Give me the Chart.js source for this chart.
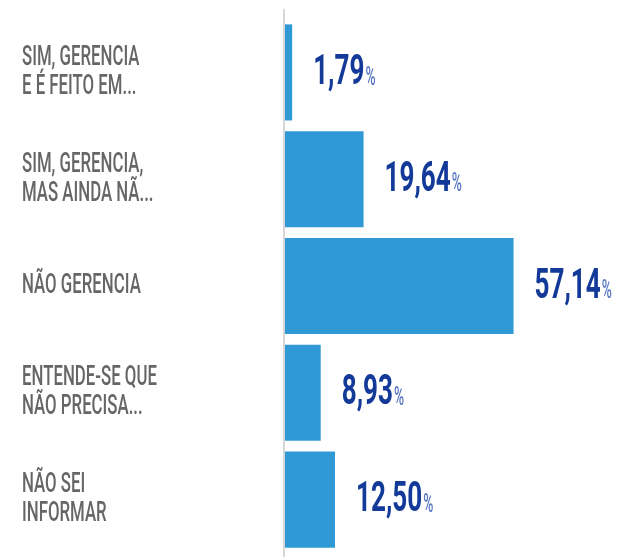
<!DOCTYPE html>
<html>
<head>
<meta charset="utf-8">
<script src="https://cdn.jsdelivr.net/npm/chart.js@4"></script>
<style>
  html, body { margin: 0; padding: 0; background: #fff; }
  #wrap { width: 624px; height: 557px; }
</style>
</head>
<body>
<div id="wrap"><canvas id="chart" width="624" height="557"></canvas></div>
<script>
// Categories (multi-line labels) and values in %
const categories = [
    ['SIM, GERENCIA', 'E É FEITO EM...'],
    ['SIM, GERENCIA,', 'MAS AINDA NÃ...'],
    ['NÃO GERENCIA'],
    ['ENTENDE-SE QUE', 'NÃO PRECISA...'],
    ['NÃO SEI', 'INFORMAR']
];
const values = [1.79, 19.64, 57.14, 8.93, 12.50];

const BAR_COLOR = '#2f99d5';
const LABEL_COLOR = '#666666';
const VALUE_COLOR = '#133a98';
const PCT_COLOR = '#5574c2';

// draws text squeezed horizontally to imitate a condensed face
function drawCondensed(ctx, text, x, y, font, color, sx) {
    ctx.save();
    ctx.font = font;
    ctx.fillStyle = color;
    ctx.textBaseline = 'middle';
    ctx.textAlign = 'left';
    ctx.translate(x, y);
    ctx.scale(sx, 1);
    ctx.fillText(text, 0, 0);
    const w = ctx.measureText(text).width * sx;
    ctx.restore();
    return w;
}

const labelsPlugin = {
    id: 'labelsPlugin',
    beforeDatasetsDraw(chart) {
        const ctx = chart.ctx;
        const x0 = chart.scales.x.getPixelForValue(0);
        ctx.save();
        ctx.strokeStyle = '#d6d6d6';
        ctx.lineWidth = 2;
        ctx.beginPath();
        ctx.moveTo(x0 - 1, 9);
        ctx.lineTo(x0 - 1, chart.height);
        ctx.stroke();
        ctx.restore();
    },
    afterDatasetsDraw(chart) {
        const ctx = chart.ctx;
        const yScale = chart.scales.y;
        const meta = chart.getDatasetMeta(0);
        categories.forEach((lines, i) => {
            const cy = yScale.getPixelForValue(i);
            const lh = 29;
            const start = cy - (lines.length - 1) * lh / 2;
            lines.forEach((line, j) => {
                drawCondensed(ctx, line, 22, start + j * lh, '500 28px Roboto', LABEL_COLOR, 0.6);
            });
            const bar = meta.data[i];
            const txt = values[i].toFixed(2).replace('.', ',');
            const vx = bar.x + 21;
            const w = drawCondensed(ctx, txt, vx, cy + 1, 'bold 42px Roboto', VALUE_COLOR, 0.62);
            drawCondensed(ctx, '%', vx + w + 1, cy + 6, '500 25px Roboto', PCT_COLOR, 0.55);
        });
    }
};

new Chart(document.getElementById('chart'), {
    type: 'bar',
    data: {
        labels: categories,
        datasets: [{
            data: values,
            backgroundColor: BAR_COLOR,
            borderWidth: 0,
            barPercentage: 0.9,
            categoryPercentage: 1
        }]
    },
    options: {
        indexAxis: 'y',
        responsive: false,
        animation: false,
        layout: { padding: { left: 285, right: 19, top: 19, bottom: 4 } },
        scales: {
            x: { display: false, min: 0, max: 80 },
            y: { display: false }
        },
        plugins: {
            legend: { display: false },
            tooltip: { enabled: false }
        }
    },
    plugins: [labelsPlugin]
});
</script>
</body>
</html>
